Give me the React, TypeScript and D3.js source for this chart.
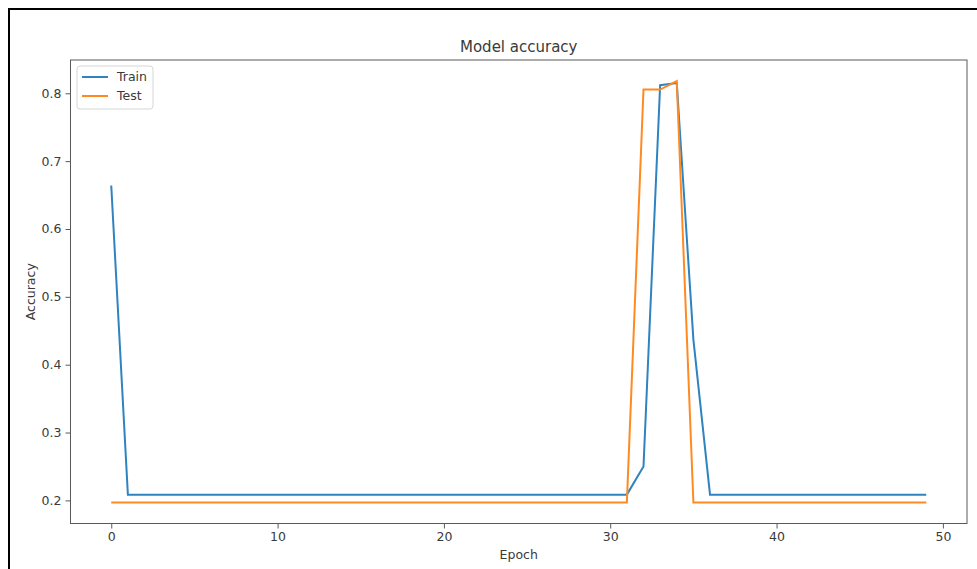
import React, { useEffect, useRef } from "react";
import * as d3 from "d3";

const WIDTH = 977;
const HEIGHT = 569;

const epochs: number[] = Array.from({ length: 50 }, (_, i) => i);

const trainAccuracy: number[] = [
  0.664, 0.2085, 0.2085, 0.2085, 0.2085, 0.2085, 0.2085, 0.2085, 0.2085, 0.2085,
  0.2085, 0.2085, 0.2085, 0.2085, 0.2085, 0.2085, 0.2085, 0.2085, 0.2085, 0.2085,
  0.2085, 0.2085, 0.2085, 0.2085, 0.2085, 0.2085, 0.2085, 0.2085, 0.2085, 0.2085,
  0.2085, 0.2085, 0.25, 0.812, 0.815, 0.437, 0.2085, 0.2085, 0.2085, 0.2085,
  0.2085, 0.2085, 0.2085, 0.2085, 0.2085, 0.2085, 0.2085, 0.2085, 0.2085, 0.2085,
];

const testAccuracy: number[] = [
  0.197, 0.197, 0.197, 0.197, 0.197, 0.197, 0.197, 0.197, 0.197, 0.197,
  0.197, 0.197, 0.197, 0.197, 0.197, 0.197, 0.197, 0.197, 0.197, 0.197,
  0.197, 0.197, 0.197, 0.197, 0.197, 0.197, 0.197, 0.197, 0.197, 0.197,
  0.197, 0.197, 0.8055, 0.8055, 0.818, 0.197, 0.197, 0.197, 0.197, 0.197,
  0.197, 0.197, 0.197, 0.197, 0.197, 0.197, 0.197, 0.197, 0.197, 0.197,
];

const xTicks: number[] = [0, 10, 20, 30, 40, 50];
const yTicks: number[] = [0.2, 0.3, 0.4, 0.5, 0.6, 0.7, 0.8];

const seriesNames: string[] = ["Train", "Test"];
const seriesColors: string[] = ["#2f83c0", "#ff8a22"];

const FONT = "'DejaVu Sans', sans-serif";

export default function App() {
  const ref = useRef<SVGSVGElement | null>(null);

  useEffect(() => {
    const svg = d3.select(ref.current);
    svg.selectAll("*").remove();

    const left = 70.5;
    const right = 967;
    const top = 60;
    const bottom = 523.5;

    const x = d3.scaleLinear().domain([-2.45, 51.45]).range([left, right]);
    const allVals = trainAccuracy.concat(testAccuracy);
    const lo = d3.min(allVals) as number;
    const hi = d3.max(allVals) as number;
    const pad = (hi - lo) * 0.05;
    const y = d3.scaleLinear().domain([lo - pad, hi + pad]).range([bottom, top]);

    svg.append("rect").attr("width", WIDTH).attr("height", HEIGHT).attr("fill", "#fff");

    // outer frame
    svg
      .append("rect")
      .attr("x", 9)
      .attr("y", 9)
      .attr("width", WIDTH + 20)
      .attr("height", HEIGHT + 20)
      .attr("fill", "none")
      .attr("stroke", "#000")
      .attr("stroke-width", 2);

    const textColor = "#3a3a3a";
    const spineColor = "#5a5a5a";

    // series lines
    const series = [trainAccuracy, testAccuracy];
    series.forEach((vals, si) => {
      const line = d3
        .line<number>()
        .x((_, i) => x(epochs[i]))
        .y((d) => y(d));
      svg
        .append("path")
        .datum(vals)
        .attr("d", line)
        .attr("fill", "none")
        .attr("stroke", seriesColors[si])
        .attr("stroke-width", 2)
        .attr("stroke-linejoin", "miter");
    });

    // spines
    svg
      .append("rect")
      .attr("x", left)
      .attr("y", top)
      .attr("width", right - left)
      .attr("height", bottom - top)
      .attr("fill", "none")
      .attr("stroke", spineColor)
      .attr("stroke-width", 1);

    // x axis
    const xAxis = d3
      .axisBottom(x)
      .tickValues(xTicks)
      .tickFormat(d3.format("d"))
      .tickSize(5)
      .tickPadding(4);
    const gx = svg.append("g").attr("transform", `translate(0,${bottom})`).call(xAxis);
    gx.select(".domain").remove();
    gx.selectAll("line").attr("stroke", spineColor);
    gx.selectAll("text")
      .attr("fill", textColor)
      .style("font-family", FONT)
      .style("font-size", "12.5px");

    // y axis
    const yAxis = d3
      .axisLeft(y)
      .tickValues(yTicks)
      .tickFormat(d3.format(".1f"))
      .tickSize(5)
      .tickPadding(4);
    const gy = svg.append("g").attr("transform", `translate(${left},0)`).call(yAxis);
    gy.select(".domain").remove();
    gy.selectAll("line").attr("stroke", spineColor);
    gy.selectAll("text")
      .attr("fill", textColor)
      .style("font-family", FONT)
      .style("font-size", "12.5px");

    // title and axis labels
    svg
      .append("text")
      .attr("x", (left + right) / 2)
      .attr("y", 52)
      .attr("text-anchor", "middle")
      .attr("fill", textColor)
      .style("font-family", FONT)
      .style("font-size", "15px")
      .text("Model accuracy");

    svg
      .append("text")
      .attr("x", (left + right) / 2)
      .attr("y", 559)
      .attr("text-anchor", "middle")
      .attr("fill", textColor)
      .style("font-family", FONT)
      .style("font-size", "12.5px")
      .text("Epoch");

    svg
      .append("text")
      .attr("transform", `translate(35,${(top + bottom) / 2}) rotate(-90)`)
      .attr("text-anchor", "middle")
      .attr("fill", textColor)
      .style("font-family", FONT)
      .style("font-size", "12.5px")
      .text("Accuracy");

    // legend
    const lg = svg.append("g").attr("transform", `translate(77,66)`);
    lg.append("rect")
      .attr("x", 0)
      .attr("y", 0)
      .attr("width", 76)
      .attr("height", 43)
      .attr("rx", 3)
      .attr("fill", "#fff")
      .attr("fill-opacity", 0.8)
      .attr("stroke", "#d6d6d6")
      .attr("stroke-width", 1);
    seriesNames.forEach((name, i) => {
      const cy = 11 + i * 19;
      lg.append("line")
        .attr("x1", 5)
        .attr("x2", 31)
        .attr("y1", cy)
        .attr("y2", cy)
        .attr("stroke", seriesColors[i])
        .attr("stroke-width", 2);
      lg.append("text")
        .attr("x", 40)
        .attr("y", cy)
        .attr("dy", "0.35em")
        .attr("fill", textColor)
        .style("font-family", FONT)
        .style("font-size", "12.5px")
        .text(name);
    });
  }, []);

  return (
    <svg
      ref={ref}
      width={WIDTH}
      height={HEIGHT}
      style={{ position: "absolute", left: 0, top: 0, display: "block" }}
    />
  );
}
